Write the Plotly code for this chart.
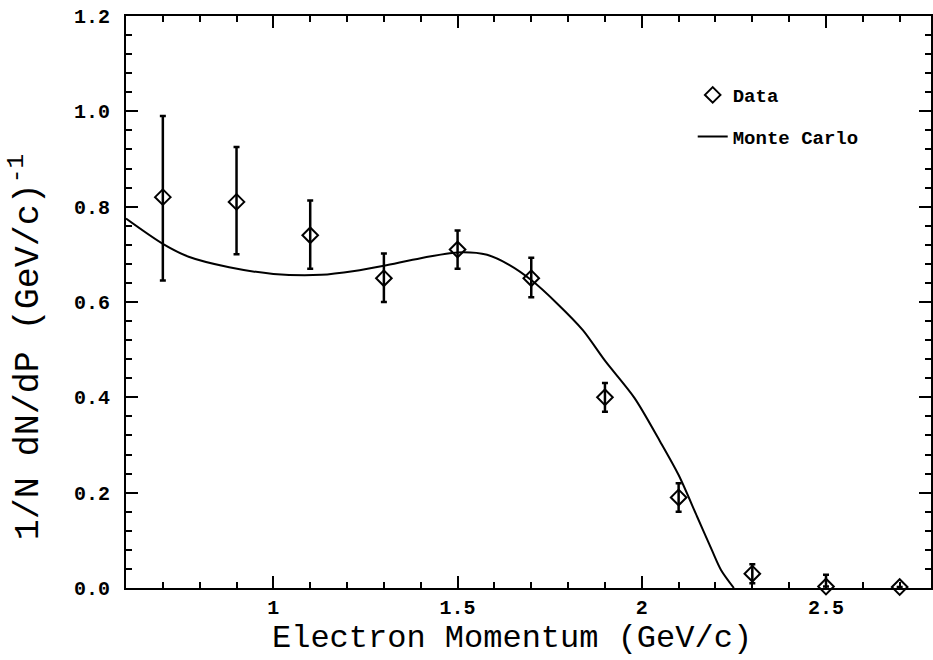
import plotly.graph_objects as go

# Data points
data_x = [0.7, 0.9, 1.1, 1.3, 1.5, 1.7, 1.9, 2.1, 2.3, 2.5, 2.7]
data_y = [0.82, 0.81, 0.74, 0.65, 0.71, 0.65, 0.40, 0.19, 0.03, 0.003, 0.002]
err_plus = [0.17, 0.115, 0.073, 0.052, 0.04, 0.043, 0.03, 0.03, 0.02, 0.025, 0.0]
err_minus = [0.175, 0.11, 0.07, 0.05, 0.04, 0.04, 0.03, 0.03, 0.02, 0.0, 0.0]

# Monte Carlo curve
mc_x = [0.6, 0.7, 0.77, 0.88, 1.0, 1.13, 1.22, 1.3, 1.4, 1.5, 1.58, 1.64, 1.70,
        1.77, 1.84, 1.90, 1.98, 2.05, 2.10, 2.15, 2.19, 2.215, 2.25]
mc_y = [0.775, 0.722, 0.695, 0.673, 0.659, 0.657, 0.665, 0.676, 0.692, 0.704,
        0.699, 0.678, 0.646, 0.597, 0.541, 0.477, 0.399, 0.307, 0.237, 0.150,
        0.080, 0.038, 0.0]

x_tickvals = [1, 1.5, 2, 2.5]
x_ticktext = ["1", "1.5", "2", "2.5"]
y_tickvals = [0.0, 0.2, 0.4, 0.6, 0.8, 1.0, 1.2]
y_ticktext = ["0.0", "0.2", "0.4", "0.6", "0.8", "1.0", "1.2"]

x_title = "Electron Momentum (GeV/c)"
y_title = "1/N dN/dP (GeV/c)<sup>-1</sup>"

FONT = "Liberation Mono"

fig = go.Figure()
fig.add_trace(go.Scatter(
    x=data_x, y=data_y, mode="markers", name="Data", legendgroup="d",
    marker=dict(symbol="diamond-open", size=12, color="black", line=dict(width=2, color="black")),
    error_y=dict(type="data", symmetric=False, array=err_plus, arrayminus=err_minus,
                 color="black", thickness=2.5, width=3),
    cliponaxis=False,
))
fig.add_trace(go.Scatter(
    x=mc_x, y=mc_y, mode="lines", name="Monte Carlo", legendgroup="m",
    line=dict(color="black", width=2, shape="spline", smoothing=0.8),
))

fig.update_layout(
    width=933, height=660,
    margin=dict(l=126, r=0, t=16, b=72),
    paper_bgcolor="white", plot_bgcolor="white",
    showlegend=True,
    legend=dict(x=0.704, y=0.895, xanchor="left", yanchor="top",
                font=dict(family=FONT, size=19, color="black", weight="bold"),
                bgcolor="rgba(0,0,0,0)", tracegroupgap=14, itemwidth=30),
    font=dict(family=FONT, color="black"),
    annotations=[
        dict(text=x_title, xref="paper", yref="paper", x=(513 - 126) / 807, y=(588 - 659) / 572,
             xanchor="center", yanchor="bottom", showarrow=False,
             font=dict(family=FONT, size=32, color="black")),
        dict(text=y_title, xref="paper", yref="paper", x=(26 - 126) / 807, y=(588 - 347) / 572,
             xanchor="center", yanchor="middle", showarrow=False, textangle=-90,
             font=dict(family=FONT, size=35, color="black")),
    ],
)
fig.update_xaxes(
    range=[0.6, 2.785], tickvals=x_tickvals, ticktext=x_ticktext,
    ticks="inside", ticklen=12, tickwidth=2, tickcolor="black",
    showline=True, linewidth=2, linecolor="black", mirror="ticks",
    showgrid=False, zeroline=False, ticklabelstandoff=0,
    tickfont=dict(family=FONT, size=20, color="black", weight="bold"),
    minor=dict(dtick=0.1, tick0=0, ticks="inside", ticklen=6, tickwidth=2, tickcolor="black", showgrid=False),
)
fig.update_yaxes(
    range=[0, 1.2], tickvals=y_tickvals, ticktext=y_ticktext,
    ticks="inside", ticklen=12, tickwidth=2, tickcolor="black",
    showline=True, linewidth=2, linecolor="black", mirror="ticks",
    showgrid=False, zeroline=False, ticklabelstandoff=10,
    tickfont=dict(family=FONT, size=20, color="black", weight="bold"),
    minor=dict(dtick=0.04, tick0=0, ticks="inside", ticklen=6, tickwidth=2, tickcolor="black", showgrid=False),
)

fig.write_html("out.html")
